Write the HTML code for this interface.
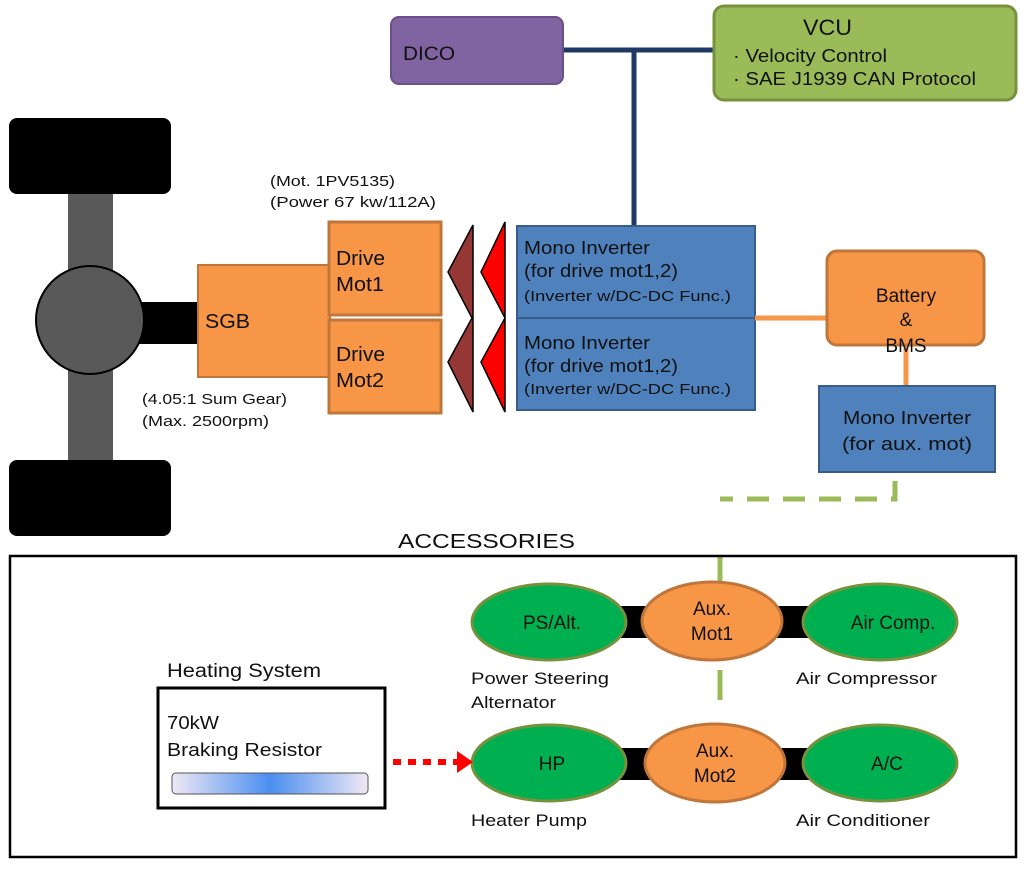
<!DOCTYPE html>
<html><head><style>
body{margin:0;background:#fff}
text{font-family:"Liberation Sans",sans-serif;fill:#111}
</style></head><body>
<svg width="1024" height="866" viewBox="0 0 1024 866" xmlns="http://www.w3.org/2000/svg">
<defs>
<linearGradient id="tube" x1="0" x2="1" y1="0" y2="0">
<stop offset="0" stop-color="#f0e8f4"/><stop offset="0.5" stop-color="#4a8ef0"/><stop offset="1" stop-color="#f0e8f4"/>
</linearGradient>
</defs>
<rect x="68" y="190" width="45" height="275" fill="#595959"/>
<rect x="9" y="118" width="162" height="76" rx="8" fill="#000"/>
<rect x="9" y="460" width="162" height="76" rx="8" fill="#000"/>
<rect x="135" y="302" width="65" height="42" fill="#000"/>
<circle cx="90" cy="320" r="54" fill="#595959" stroke="#000" stroke-width="2"/>
<rect x="198" y="265" width="132" height="112" fill="#f79646" stroke="#c0763a" stroke-width="2"/>
<text x="205" y="328" font-size="20" textLength="45" lengthAdjust="spacingAndGlyphs">SGB</text>
<rect x="329" y="222" width="112" height="93" fill="#f79646" stroke="#c0763a" stroke-width="3"/>
<rect x="329" y="320" width="112" height="93" fill="#f79646" stroke="#c0763a" stroke-width="3"/>
<text x="336" y="265" font-size="20" textLength="49" lengthAdjust="spacingAndGlyphs">Drive</text><text x="336" y="291" font-size="20" textLength="48" lengthAdjust="spacingAndGlyphs">Mot1</text>
<text x="336" y="361" font-size="20" textLength="49" lengthAdjust="spacingAndGlyphs">Drive</text><text x="336" y="387" font-size="20" textLength="48" lengthAdjust="spacingAndGlyphs">Mot2</text>
<text x="270" y="186" font-size="15" textLength="125" lengthAdjust="spacingAndGlyphs">(Mot. 1PV5135)</text>
<text x="270" y="207" font-size="15" textLength="166" lengthAdjust="spacingAndGlyphs">(Power 67 kw/112A)</text>
<text x="142" y="404" font-size="15" textLength="145" lengthAdjust="spacingAndGlyphs">(4.05:1 Sum Gear)</text>
<text x="142" y="426" font-size="15" textLength="127" lengthAdjust="spacingAndGlyphs">(Max. 2500rpm)</text>
<polygon points="473,225 448,272 472,318 448,362 473,412" fill="#953735" stroke="#000" stroke-width="1.5"/>
<polygon points="505,222 481,272 505,318 481,362 505,412" fill="#ff0000" stroke="#000" stroke-width="1.5"/>
<line x1="563" y1="50" x2="714" y2="50" stroke="#1f3864" stroke-width="5"/>
<line x1="634" y1="50" x2="634" y2="226" stroke="#1f3864" stroke-width="5"/>
<rect x="391" y="17" width="172" height="67" rx="8" fill="#8064a2" stroke="#6a508a" stroke-width="2"/>
<text x="403" y="60" font-size="19" textLength="52" lengthAdjust="spacingAndGlyphs">DICO</text>
<rect x="714" y="6" width="302" height="94" rx="10" fill="#9bbb59" stroke="#76923c" stroke-width="3"/>
<text x="803" y="35" font-size="22" textLength="49" lengthAdjust="spacingAndGlyphs">VCU</text>
<text x="733" y="62" font-size="18" textLength="154" lengthAdjust="spacingAndGlyphs">· Velocity Control</text>
<text x="733" y="85" font-size="18" textLength="243" lengthAdjust="spacingAndGlyphs">· SAE J1939 CAN Protocol</text>
<rect x="517" y="226" width="238" height="92" fill="#4f81bd" stroke="#385d8a" stroke-width="2"/>
<rect x="517" y="318" width="238" height="92" fill="#4f81bd" stroke="#385d8a" stroke-width="2"/>
<text x="524" y="254" font-size="18" textLength="126" lengthAdjust="spacingAndGlyphs">Mono Inverter</text>
<text x="524" y="277" font-size="18" textLength="154" lengthAdjust="spacingAndGlyphs">(for drive mot1,2)</text>
<text x="524" y="301" font-size="15" textLength="207" lengthAdjust="spacingAndGlyphs">(Inverter w/DC-DC Func.)</text>
<text x="524" y="349" font-size="18" textLength="126" lengthAdjust="spacingAndGlyphs">Mono Inverter</text>
<text x="524" y="372" font-size="18" textLength="154" lengthAdjust="spacingAndGlyphs">(for drive mot1,2)</text>
<text x="524" y="394" font-size="15" textLength="207" lengthAdjust="spacingAndGlyphs">(Inverter w/DC-DC Func.)</text>
<line x1="755" y1="318" x2="827" y2="318" stroke="#f79646" stroke-width="5"/>
<line x1="906" y1="345" x2="906" y2="386" stroke="#f79646" stroke-width="5"/>
<rect x="827" y="251" width="157" height="94" rx="10" fill="#f79646" stroke="#c0763a" stroke-width="3"/>
<text x="906" y="302" font-size="19" text-anchor="middle">Battery</text>
<text x="906" y="326" font-size="19" text-anchor="middle">&amp;</text>
<text x="906" y="352" font-size="19" text-anchor="middle">BMS</text>
<rect x="819" y="386" width="176" height="86" fill="#4f81bd" stroke="#385d8a" stroke-width="2"/>
<text x="843" y="454" font-size="18" textLength="128" lengthAdjust="spacingAndGlyphs" y="454" dy="-30">Mono Inverter</text>
<text x="842" y="480" font-size="18" textLength="130" lengthAdjust="spacingAndGlyphs" dy="-30">(for aux. mot)</text>
<polyline points="895,481 895,499 720,499" fill="none" stroke="#9bbb59" stroke-width="5" stroke-dasharray="22,14"/>
<line x1="720" y1="555" x2="720" y2="585" stroke="#9bbb59" stroke-width="5"/>
<line x1="720" y1="670" x2="720" y2="700" stroke="#9bbb59" stroke-width="5"/>
<text x="398" y="548" font-size="20" textLength="177" lengthAdjust="spacingAndGlyphs">ACCESSORIES</text>
<rect x="10" y="556" width="1006" height="301" fill="none" stroke="#000" stroke-width="2.5"/>
<rect x="620" y="606" width="200" height="32" fill="#000"/>
<rect x="620" y="748" width="200" height="32" fill="#000"/>
<ellipse cx="549" cy="622" rx="77" ry="38" fill="#00b050" stroke="#76923c" stroke-width="3"/>
<ellipse cx="712" cy="621" rx="70" ry="39" fill="#f79646" stroke="#c0763a" stroke-width="3"/>
<ellipse cx="880" cy="622" rx="77" ry="38" fill="#00b050" stroke="#76923c" stroke-width="3"/>
<ellipse cx="549" cy="763" rx="77" ry="38" fill="#00b050" stroke="#76923c" stroke-width="3"/>
<ellipse cx="715" cy="763" rx="70" ry="39" fill="#f79646" stroke="#c0763a" stroke-width="3"/>
<ellipse cx="880" cy="763" rx="77" ry="38" fill="#00b050" stroke="#76923c" stroke-width="3"/>
<text x="552" y="629" font-size="19" text-anchor="middle">PS/Alt.</text>
<text x="712" y="615" font-size="19" text-anchor="middle">Aux.</text>
<text x="712" y="640" font-size="19" text-anchor="middle">Mot1</text>
<text x="893" y="629" font-size="19" text-anchor="middle">Air Comp.</text>
<text x="552" y="770" font-size="19" text-anchor="middle">HP</text>
<text x="715" y="757" font-size="19" text-anchor="middle">Aux.</text>
<text x="715" y="782" font-size="19" text-anchor="middle">Mot2</text>
<text x="887" y="770" font-size="19" text-anchor="middle">A/C</text>
<text x="471" y="684" font-size="17" textLength="138" lengthAdjust="spacingAndGlyphs">Power Steering</text>
<text x="471" y="708" font-size="17" textLength="85" lengthAdjust="spacingAndGlyphs">Alternator</text>
<text x="796" y="684" font-size="17" textLength="141" lengthAdjust="spacingAndGlyphs">Air Compressor</text>
<text x="471" y="826" font-size="17" textLength="116" lengthAdjust="spacingAndGlyphs">Heater Pump</text>
<text x="796" y="826" font-size="17" textLength="134" lengthAdjust="spacingAndGlyphs">Air Conditioner</text>
<text x="167" y="677" font-size="19" textLength="154" lengthAdjust="spacingAndGlyphs">Heating System</text>
<rect x="158" y="688" width="227" height="120" fill="#fff" stroke="#000" stroke-width="3"/>
<text x="167" y="729" font-size="18" textLength="52" lengthAdjust="spacingAndGlyphs">70kW</text>
<text x="167" y="756" font-size="18" textLength="155" lengthAdjust="spacingAndGlyphs">Braking Resistor</text>
<rect x="172" y="773" width="196" height="21" rx="4" fill="url(#tube)" stroke="#555" stroke-width="1"/>
<line x1="393" y1="762" x2="458" y2="762" stroke="#ff0000" stroke-width="6" stroke-dasharray="8,7"/>
<polygon points="457,751 473,762 457,773" fill="#ff0000"/>
</svg>
</body></html>
